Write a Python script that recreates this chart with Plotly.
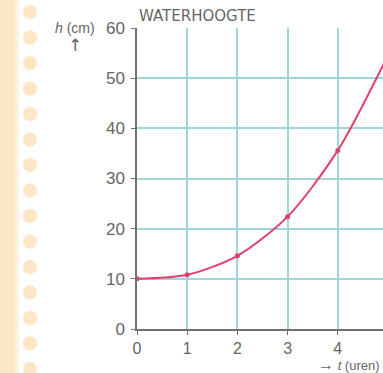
import plotly.graph_objects as go

# data
t_hours = [0, 1, 2, 3, 4, 5]
h_cm = [10, 10.8, 14.6, 22.4, 35.6, 54.6]
x_ticks = [0, 1, 2, 3, 4]
x_tick_labels = ["0", "1", "2", "3", "4"]
y_ticks = [0, 10, 20, 30, 40, 50, 60]
y_tick_labels = ["0", "10", "20", "30", "40", "50", "60"]

W, H = 383, 373
ML, MR, MT, MB = 137, 0, 28, 44
PW, PH = W - ML - MR, H - MT - MB


def px(x):
    return (x - ML) / PW


def py(y):
    return (H - MB - y) / PH


fig = go.Figure()
fig.add_trace(go.Scatter(
    x=t_hours, y=h_cm, mode="lines+markers",
    line=dict(color="#e0406a", width=2, shape="spline", smoothing=0.8),
    marker=dict(color="#e0406a", size=5),
    showlegend=False, hoverinfo="skip",
))

shapes = []
# notebook strip
shapes.append(dict(type="rect", xref="paper", yref="paper", x0=px(0), x1=px(15),
                   y0=py(H), y1=py(0), fillcolor="#fbe6c6", line_width=0, layer="below"))
shapes.append(dict(type="rect", xref="paper", yref="paper", x0=px(15), x1=px(19),
                   y0=py(H), y1=py(0), fillcolor="#fdf2e2", line_width=0, layer="below"))
for i in range(15):
    cy = 12 + 25.5 * i
    shapes.append(dict(type="circle", xref="paper", yref="paper",
                       x0=px(23), x1=px(37), y0=py(cy + 7), y1=py(cy - 7),
                       fillcolor="#fce6c4", line=dict(color="#fdf0dc", width=1), layer="below"))

text_col = "#666666"
font_fam = "Liberation Sans, DejaVu Sans, sans-serif"
annotations = [
    dict(text="WATERHOOGTE", x=px(137), y=py(16), xref="paper", yref="paper",
         xanchor="left", yanchor="middle", showarrow=False,
         font=dict(size=15, color=text_col, family="DejaVu Sans, sans-serif")),
    dict(text="<i>h</i> (cm)", x=px(97), y=py(28), xref="paper", yref="paper",
         xanchor="right", yanchor="middle", showarrow=False,
         font=dict(size=14, color=text_col, family=font_fam)),
    dict(text="↑", x=px(75), y=py(45), xref="paper", yref="paper",
         xanchor="center", yanchor="middle", showarrow=False,
         font=dict(size=17, color=text_col, family="DejaVu Sans, sans-serif")),
    dict(text="<span style='font-size:16px'>→</span> <i>t</i> (uren)", x=px(382), y=py(364),
         xref="paper", yref="paper",
         xanchor="right", yanchor="middle", showarrow=False,
         font=dict(size=13, color=text_col, family=font_fam)),
]

fig.update_layout(
    width=W, height=H,
    margin=dict(l=ML, r=MR, t=MT, b=MB),
    paper_bgcolor="white", plot_bgcolor="white",
    shapes=shapes, annotations=annotations,
    xaxis=dict(range=[0, (W - ML) / 50.2], tickvals=x_ticks, ticktext=x_tick_labels,
               showgrid=True, gridcolor="#9fd6db", gridwidth=1.5,
               showline=True, linecolor="#707070", linewidth=1.5,
               ticks="outside", ticklen=4, tickcolor="#707070", zeroline=False,
               tickfont=dict(size=16, color=text_col, family=font_fam), fixedrange=True),
    yaxis=dict(range=[0, 60], tickvals=y_ticks, ticktext=y_tick_labels,
               showgrid=True, gridcolor="#9fd6db", gridwidth=1.5,
               showline=True, linecolor="#707070", linewidth=1.5,
               ticks="outside", ticklen=4, tickcolor="#707070", zeroline=False,
               ticklabelstandoff=3,
               tickfont=dict(size=17, color=text_col, family=font_fam), fixedrange=True),
)

fig.write_html("out.html", config={"displayModeBar": False},
               post_script="document.body.style.margin='0';document.body.style.overflow='hidden';")
